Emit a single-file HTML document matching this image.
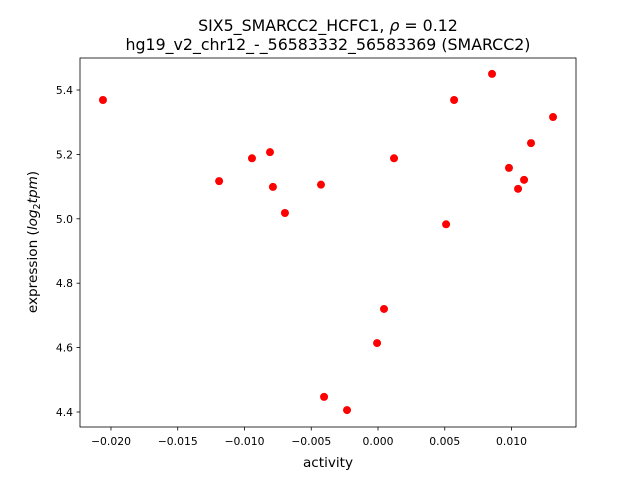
<!DOCTYPE html>
<html><head><meta charset="utf-8"><style>
body{margin:0;background:#fff;font-family:"Liberation Sans","DejaVu Sans",sans-serif;}
svg text{font-family:"DejaVu Sans","Liberation Sans",sans-serif;}
</style></head><body>
<svg id="chart" width="640" height="480" xmlns="http://www.w3.org/2000/svg">
<rect width="640" height="480" fill="#fff"/>
<text x="328" y="31" text-anchor="middle" font-size="15.8">SIX5_SMARCC2_HCFC1, <tspan font-style="italic">ρ</tspan> = 0.12</text>
<text x="328" y="50" text-anchor="middle" font-size="15.8">hg19_v2_chr12_-_56583332_56583369 (SMARCC2)</text>
<g id="plot"></g>
<text x="328" y="467" text-anchor="middle" font-size="13.6">activity</text>
<text transform="translate(37,242) rotate(-90)" text-anchor="middle" font-size="13.6">expression (<tspan font-style="italic">log</tspan><tspan font-size="9.5" dy="3">2</tspan><tspan dy="-3" font-style="italic">tpm</tspan>)</text>
</svg>
<script>
const xs=[-0.0206,-0.0119,-0.00944,-0.00809,-0.00787,-0.00697,-0.00427,-0.00404,-0.00232,-0.00007,0.00045,0.0012,0.0051,0.0057,0.00854,0.00981,0.01049,0.01094,0.01146,0.01311];
const ys=[5.369,5.117,5.188,5.207,5.099,5.018,5.106,4.447,4.406,4.614,4.720,5.188,4.983,5.369,5.450,5.158,5.093,5.121,5.235,5.316];
const xTicks=[-0.020,-0.015,-0.010,-0.005,0.000,0.005,0.010];
const xTickLabels=["−0.020","−0.015","−0.010","−0.005","0.000","0.005","0.010"];
const yTicks=[4.4,4.6,4.8,5.0,5.2,5.4];
const yTickLabels=["4.4","4.6","4.8","5.0","5.2","5.4"];
const L=80,R=576,T=58,B=427;
const xMin=-0.02232,xMax=0.01483,yMin=4.3534,yMax=5.4994;
const sx=v=>L+(v-xMin)/(xMax-xMin)*(R-L);
const sy=v=>B-(v-yMin)/(yMax-yMin)*(B-T);
const NS="http://www.w3.org/2000/svg";
const g=document.getElementById('plot');
function mk(t,a){const e=document.createElementNS(NS,t);for(const k in a)e.setAttribute(k,a[k]);g.appendChild(e);return e;}
xs.forEach((x,i)=>{
 const c=mk('circle',{cx:sx(x),cy:sy(ys[i]),r:4,fill:'#ff0000'});
 
 
});
xTicks.forEach((t,i)=>{
 const X=sx(t);
 const l=mk('line',{x1:X,x2:X,y1:B,y2:B+3.5,stroke:'#000','stroke-width':0.8});
 
 
 const tx=mk('text',{x:X,y:B+18,'text-anchor':'middle','font-size':10.8});
 tx.textContent=xTickLabels[i];
 
 
});
yTicks.forEach((t,i)=>{
 const Y=sy(t);
 const l=mk('line',{x1:L-3.5,x2:L,y1:Y,y2:Y,stroke:'#000','stroke-width':0.8});
 
 
 const tx=mk('text',{x:L-7,y:Y+4,'text-anchor':'end','font-size':10.8});
 tx.textContent=yTickLabels[i];
 
 
});
const fr=mk('rect',{x:L,y:T,width:R-L,height:B-T,fill:'none',stroke:'#000','stroke-width':0.8});


</script>
</body></html>
